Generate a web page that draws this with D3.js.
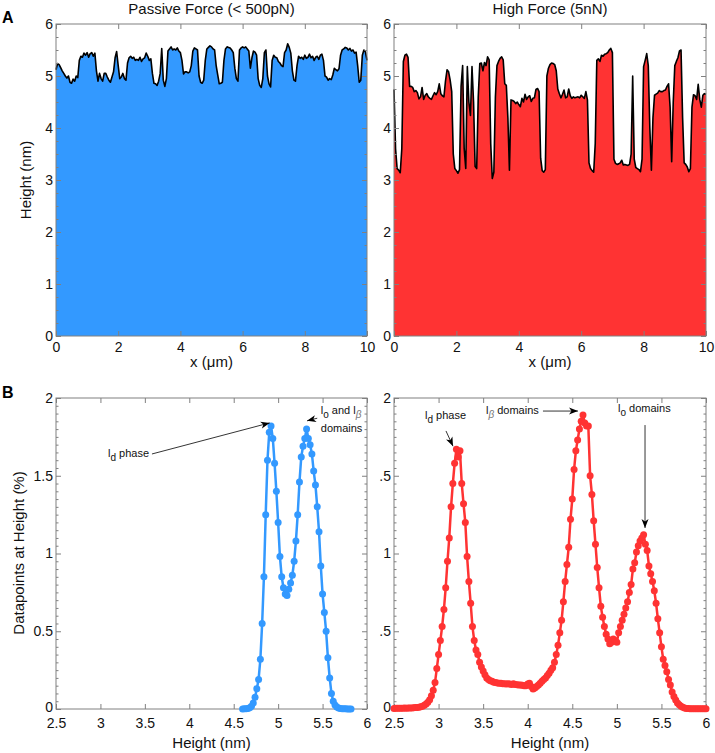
<!DOCTYPE html>
<html><head><meta charset="utf-8">
<script src="https://cdn.jsdelivr.net/npm/d3@7"></script>
<style>
body{margin:0;background:#fff}
text{font-family:"Liberation Sans",Arial,Helvetica,sans-serif}
</style>
</head><body>
<svg id="c" width="715" height="753"></svg>
<script>
// ---------------- DATA ----------------
const profileStep = 0.05; // µm between profile samples
const passiveHeights = [
5.12,5.24,5.22,5.16,5.10,5.05,5.00,4.96,5.00,4.88,
4.86,4.94,4.90,5.00,4.97,5.30,5.38,5.36,5.44,5.40,
5.45,5.36,5.43,5.45,5.38,5.44,5.10,4.90,5.05,4.95,
4.90,5.05,5.05,4.98,4.92,4.88,4.98,5.08,5.35,5.47,
5.20,4.95,4.98,5.05,4.95,4.92,5.25,5.35,5.38,5.34,
5.36,5.30,5.32,5.30,5.36,5.28,5.33,5.35,5.44,5.38,
5.30,5.33,5.05,4.86,4.85,4.82,4.90,5.05,5.53,4.92,
4.80,4.95,5.48,5.52,5.56,5.50,5.52,5.50,5.54,5.48,
5.45,5.30,5.04,5.08,5.08,5.06,5.08,5.20,5.48,5.54,
5.52,5.50,5.00,4.88,4.86,4.92,5.30,5.52,5.55,5.58,
5.56,5.52,5.50,5.20,5.02,4.85,4.86,4.88,5.30,5.52,
5.56,5.55,5.54,5.50,5.45,5.15,4.95,4.90,5.50,5.54,
5.56,5.54,5.56,5.52,5.48,5.15,5.35,5.48,5.46,5.40,
4.95,4.82,4.78,4.95,5.45,5.50,5.00,4.85,4.79,5.30,
5.40,5.36,5.35,5.28,5.25,5.20,5.18,5.45,5.50,5.62,
5.55,5.44,5.10,4.92,4.90,5.20,5.38,5.34,5.36,5.32,
5.40,5.34,5.36,5.42,5.35,5.38,5.30,5.36,5.38,5.32,
5.40,5.42,5.30,5.00,4.98,4.92,4.95,4.93,5.02,5.15,
5.12,5.10,5.14,5.40,5.50,5.52,5.55,5.54,5.50,5.53,
5.48,5.50,5.44,5.46,5.20,4.88,4.92,5.40,5.50,5.46,
5.30];
const highHeights = [
4.74,3.60,3.22,3.19,3.14,3.60,5.28,5.40,5.42,5.36,
4.80,4.80,4.78,4.70,4.72,4.68,4.56,4.60,4.78,4.55,
4.63,4.66,4.60,4.57,4.55,4.62,4.68,4.64,4.70,4.85,
4.66,4.62,4.60,4.90,5.12,5.08,4.92,4.70,3.50,3.22,
3.18,3.13,3.20,4.80,5.20,3.60,3.22,5.18,4.50,4.24,
5.18,4.50,3.26,3.22,4.60,5.24,5.25,5.10,5.26,5.20,
5.37,5.31,3.70,3.03,3.15,4.60,5.20,5.28,5.34,5.37,
5.31,4.85,4.82,4.20,3.19,4.54,4.53,4.51,4.47,4.50,
4.45,4.41,4.57,4.50,4.65,4.55,4.60,4.62,4.51,4.57,
4.58,4.74,4.76,4.70,3.42,3.18,3.15,3.20,5.00,5.15,
5.22,5.25,5.24,5.22,5.10,4.75,4.66,4.58,4.65,4.73,
4.58,4.60,4.75,4.62,4.57,4.60,4.58,4.59,4.60,4.58,
4.63,4.60,4.57,4.70,4.54,3.33,3.22,3.18,3.15,3.70,
5.30,5.33,5.28,5.40,5.38,5.42,5.43,5.45,5.50,5.53,
5.45,3.40,3.32,3.30,3.31,3.33,3.38,3.29,3.30,3.29,
3.28,3.30,3.50,5.00,3.40,3.24,3.22,3.20,3.16,3.40,
5.18,5.30,5.43,5.20,4.00,3.19,4.20,4.63,4.65,4.67,
4.72,4.70,4.70,4.72,4.73,4.80,4.85,4.40,3.35,4.50,
5.20,5.28,5.35,5.48,5.50,4.20,3.33,3.30,3.25,3.16,
3.22,4.40,4.64,4.62,4.55,4.84,4.55,4.40,4.63,4.66,
4.65];

const histStep = 0.02; // nm bin width
const passiveHistStart = 4.60;
const passiveHist = [
0.000,0.001,0.002,0.004,0.008,0.018,0.038,0.075,0.13,0.19,
0.32,0.55,0.85,1.25,1.60,1.78,1.82,1.74,1.58,1.40,
1.20,0.98,0.85,0.78,0.74,0.73,0.77,0.81,0.86,0.95,
1.08,1.25,1.46,1.62,1.69,1.74,1.80,1.74,1.70,1.64,
1.53,1.44,1.30,1.14,0.92,0.74,0.62,0.50,0.33,0.20,
0.10,0.05,0.025,0.013,0.006,0.003,0.002,0.001,0.001,0.000,
0.000,0.000];
const highHistStart = 2.50;
const highHist = [
0.004,0.005,0.005,0.005,0.005,0.005,0.006,0.005,0.006,0.007,
0.007,0.008,0.009,0.010,0.012,0.014,0.018,0.024,0.032,0.044,
0.060,0.085,0.12,0.17,0.26,0.35,0.44,0.53,0.64,0.78,
0.95,1.10,1.30,1.45,1.58,1.67,1.62,1.66,1.45,1.32,
1.20,0.98,0.82,0.68,0.53,0.44,0.38,0.35,0.30,0.27,
0.245,0.22,0.20,0.19,0.182,0.178,0.172,0.170,0.168,0.166,
0.165,0.163,0.162,0.160,0.162,0.160,0.158,0.163,0.158,0.156,
0.155,0.154,0.152,0.150,0.150,0.160,0.165,0.145,0.128,0.135,
0.145,0.155,0.165,0.178,0.19,0.20,0.215,0.23,0.25,0.265,
0.30,0.35,0.41,0.49,0.57,0.69,0.82,0.93,1.04,1.22,
1.35,1.54,1.66,1.73,1.80,1.85,1.89,1.84,1.82,1.82,
1.50,1.38,1.21,1.06,0.91,0.78,0.66,0.59,0.53,0.48,
0.45,0.42,0.43,0.45,0.44,0.43,0.49,0.53,0.57,0.61,
0.65,0.69,0.75,0.80,0.90,0.94,1.01,1.05,1.08,1.10,
1.12,1.06,1.02,0.92,0.87,0.82,0.76,0.68,0.58,0.49,
0.40,0.32,0.28,0.24,0.19,0.155,0.11,0.08,0.058,0.038,
0.028,0.017,0.012,0.007,0.004,0.003,0.002,0.002,0.001,0.001,
0.001,0.001,0.001,0.001,0.001,
0.001];

const xTicksTop = [0,2,4,6,8,10];
const yTicksTop = [0,1,2,3,4,5,6];
const xTicksBottom = [2.5,3,3.5,4,4.5,5,5.5,6];
const xTickLabelsBottom = ["2.5","3","3.5","4","4.5","5","5.5","6"];
const yTicksBottom = [0,0.5,1,1.5,2];
const yTickLabelsBottomLeft = ["0","0.5","1","1.5","2"];
const yTickLabelsBottomRight = ["0",".5","1",".5","2"];
const titles = ["Passive Force (< 500pN)","High Force (5nN)"];
const colors = {passive:"#3399ff", high:"#ff3333"};

// ---------------- LAYOUT ----------------
const svg = d3.select("#c");
const TOP = {y0:336, y1:24}, BOT = {y0:709, y1:398};
const LEFT = {x0:56, x1:367}, RIGHT = {x0:394, x1:706};
const FS = 14, LFS = 15;

const defs = svg.append("defs");
defs.append("marker").attr("id","ah").attr("viewBox","-10 -5 11 10")
  .attr("refX",0).attr("refY",0).attr("markerWidth",11).attr("markerHeight",10)
  .attr("markerUnits","userSpaceOnUse").attr("orient","auto")
  .append("path").attr("d","M0,0 L-9,-3.5 L-6.5,0 L-9,3.5 Z").attr("fill","#000");

function drawAxes(x, y, xt, xfmt, yt, yfmt, yMinorStep, xPad, zeroLift){
  const g = svg.append("g");
  const [xa, xb] = x.range(), [ya, yb] = y.range();
  const [d0, d1] = y.domain();
  const minor = d3.range(d0, d1 + 1e-9, yMinorStep).filter(v => !yt.some(t => Math.abs(t - v) < 1e-6));
  const style = sel => {
    sel.select(".domain").remove();
    sel.selectAll(".tick line").attr("stroke","#808080");
    sel.selectAll(".tick text").attr("fill","#111").style("font-size",FS+"px").style("font-family",'"Liberation Sans",Arial,sans-serif');
  };
  g.append("g").attr("transform",`translate(0,${ya})`)
    .call(d3.axisBottom(x).tickValues(xt).tickFormat(xfmt).tickSizeInner(-5).tickSizeOuter(0).tickPadding(xPad)).call(style);
  g.append("g").attr("transform",`translate(0,${yb})`)
    .call(d3.axisTop(x).tickValues(xt).tickFormat("").tickSizeInner(-5).tickSizeOuter(0)).call(style);
  const yl = g.append("g").attr("transform",`translate(${xa},0)`)
    .call(d3.axisLeft(y).tickValues(yt).tickFormat(yfmt).tickSizeInner(-5).tickSizeOuter(0).tickPadding(3)).call(style);
  if(zeroLift) yl.selectAll(".tick text").filter(d=>d===0).attr("y",-zeroLift);
  g.append("g").attr("transform",`translate(${xb},0)`)
    .call(d3.axisRight(y).tickValues(yt).tickFormat("").tickSizeInner(-5).tickSizeOuter(0)).call(style);
  g.append("g").attr("transform",`translate(${xa},0)`)
    .call(d3.axisLeft(y).tickValues(minor).tickFormat("").tickSizeInner(-2.5).tickSizeOuter(0)).call(style);
  g.append("g").attr("transform",`translate(${xb},0)`)
    .call(d3.axisRight(y).tickValues(minor).tickFormat("").tickSizeInner(-2.5).tickSizeOuter(0)).call(style);
  g.append("rect").attr("x",xa).attr("y",yb).attr("width",xb-xa).attr("height",ya-yb)
    .attr("fill","none").attr("stroke","#808080").attr("stroke-width",1);
}

// ---------- Top profiles ----------
function profile(heights, X, color, title){
  const x = d3.scaleLinear().domain([0,10]).range([X.x0, X.x1]);
  const y = d3.scaleLinear().domain([0,6]).range([TOP.y0, TOP.y1]);
  const data = heights.map((h,i)=>({x:i*profileStep, h}));
  svg.append("path").datum(data)
    .attr("d", d3.area().x(d=>x(d.x)).y0(y(0)).y1(d=>y(d.h)))
    .attr("fill", color);
  svg.append("path").datum(data)
    .attr("d", d3.line().x(d=>x(d.x)).y(d=>y(d.h)))
    .attr("fill","none").attr("stroke","#000").attr("stroke-width",1.6).attr("stroke-linejoin","round");
  drawAxes(x, y, xTicksTop, d3.format("d"), yTicksTop, d3.format("d"), 0.25, 6, 0);
  svg.append("text").attr("x",(X.x0+X.x1)/2).attr("y",14).attr("text-anchor","middle")
    .style("font-size",LFS+"px").attr("fill","#111").text(title);
  svg.append("text").attr("x",(X.x0+X.x1)/2).attr("y",367).attr("text-anchor","middle")
    .style("font-size",LFS+"px").attr("fill","#111").text("x (\u03bcm)");
}
profile(passiveHeights, LEFT, colors.passive, titles[0]);
profile(highHeights, RIGHT, colors.high, titles[1]);

// ---------- Bottom histograms ----------
function hist(values, start, X, color, ylabels){
  const x = d3.scaleLinear().domain([2.5,6]).range([X.x0, X.x1]);
  const y = d3.scaleLinear().domain([0,2]).range([BOT.y0, BOT.y1]);
  const data = values.map((v,i)=>({x:start+i*histStep, v}));
  drawAxes(x, y, xTicksBottom, (d,i)=>xTickLabelsBottom[i], yTicksBottom, (d,i)=>ylabels[i], 0.05, 9, 2);
  svg.append("path").datum(data)
    .attr("d", d3.line().x(d=>x(d.x)).y(d=>y(d.v)))
    .attr("fill","none").attr("stroke",color).attr("stroke-width",2.5).attr("stroke-linejoin","round");
  svg.append("g").selectAll("circle").data(data).join("circle")
    .attr("cx",d=>x(d.x)).attr("cy",d=>y(d.v)).attr("r",3.5).attr("fill",color);
  svg.append("text").attr("x",(X.x0+X.x1)/2).attr("y",748).attr("text-anchor","middle")
    .style("font-size",LFS+"px").attr("fill","#111").text("Height (nm)");
  return {x, y};
}
const hl = hist(passiveHist, passiveHistStart, LEFT, colors.passive, yTickLabelsBottomLeft);
const hr = hist(highHist, highHistStart, RIGHT, colors.high, yTickLabelsBottomRight);

// ---------- Axis titles & panel letters ----------
svg.append("text").attr("transform","translate(31,180) rotate(-90)").attr("text-anchor","middle")
  .style("font-size",LFS+"px").attr("fill","#111").text("Height (nm)");
svg.append("text").attr("transform","translate(24,553) rotate(-90)").attr("text-anchor","middle")
  .style("font-size",LFS+"px").attr("fill","#111").text("Datapoints at Height (%)");
svg.append("text").attr("x",2).attr("y",23).style("font-size","16px").style("font-weight","bold").text("A");
svg.append("text").attr("x",2).attr("y",398).style("font-size","16px").style("font-weight","bold").text("B");

// ---------- Annotations ----------
function label(x, y, parts){
  const t = svg.append("text").attr("x",x).attr("y",y).style("font-size","11px").attr("fill","#111");
  parts.forEach(p=>{
    const s = t.append("tspan").text(p.t);
    if(p.sub){ s.attr("dy",4).style("font-size","10px"); if(p.greek) s.style("font-style","italic").attr("fill","#777"); }
    if(p.back) s.attr("dy",-4);
  });
  return t;
}
function arrow(x1,y1,x2,y2){
  svg.append("line").attr("x1",x1).attr("y1",y1).attr("x2",x2).attr("y2",y2)
    .attr("stroke","#000").attr("stroke-width",0.8).attr("marker-end","url(#ah)");
}
// left panel
label(hl.x(3.085), hl.y(1.62), [{t:"l"},{t:"d",sub:true},{t:" phase",back:true}]);
arrow(hl.x(3.58), hl.y(1.64), hl.x(4.905), hl.y(1.84));
label(hl.x(5.48), hl.y(1.897), [{t:"l"},{t:"o",sub:true},{t:" and l",back:true},{t:"\u03b2",sub:true,greek:true}]);
label(hl.x(5.48), hl.y(1.78), [{t:"domains"}]);
arrow(hl.x(5.44), hl.y(1.87), hl.x(5.325), hl.y(1.853));
// right panel
label(hr.x(2.848), hr.y(1.865), [{t:"l"},{t:"d",sub:true},{t:" phase",back:true}]);
arrow(hr.x(3.083), hr.y(1.788), hr.x(3.162), hr.y(1.69));
label(hr.x(3.532), hr.y(1.897), [{t:"l"},{t:"\u03b2",sub:true,greek:true},{t:" domains",back:true}]);
arrow(hr.x(4.171), hr.y(1.916), hr.x(4.564), hr.y(1.916));
label(hr.x(5.013), hr.y(1.91), [{t:"l"},{t:"o",sub:true},{t:" domains",back:true}]);
arrow(hr.x(5.316), hr.y(1.826), hr.x(5.316), hr.y(1.164));
</script>
</body></html>
